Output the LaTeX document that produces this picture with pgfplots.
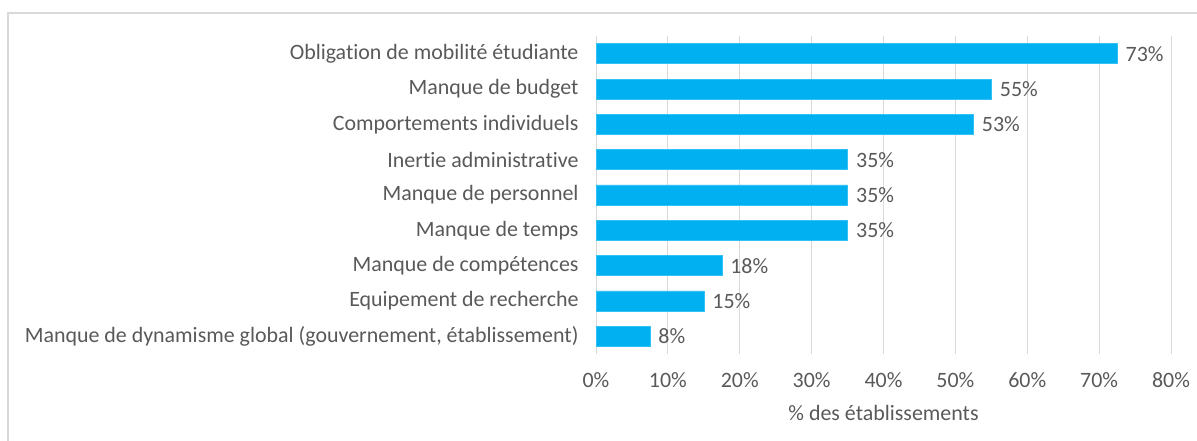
\documentclass[border=0pt]{standalone}
\usepackage{fontspec}
\setmainfont{Carlito}[Ligatures={NoCommon}]
\usepackage{pgfplots}
\pgfplotsset{compat=1.18}
\definecolor{barblue}{HTML}{00B0F0}
\definecolor{txtgray}{HTML}{595959}
\definecolor{gridgray}{HTML}{D9D9D9}
\begin{document}
\begin{tikzpicture}[x=1bp,y=1bp]
\useasboundingbox (0,0) rectangle (1197,441);
\draw[gridgray, line width=1.5bp] (8,-5) -- (8,428) -- (1205,428);
\begin{axis}[
  at={(596bp,87bp)}, anchor=south west,
  scale only axis, width=575bp, height=318bp,
  xbar, bar width=20bp,
  xmin=0, xmax=80, ymin=-0.5, ymax=8.5,
  y dir=reverse,
  axis line style={draw=none},
  xmajorgrids, grid style={gridgray, line width=1bp},
  xtick={0,10,...,80},
  xticklabel={\pgfmathprintnumber{\tick}\%},
  ytick={0,...,8},
  yticklabels={Obligation de mobilité étudiante, Manque de budget, Comportements individuels, Inertie administrative, Manque de personnel, Manque de temps, Manque de compétences, Equipement de recherche, {Manque de dynamisme global (gouvernement, établissement)}},
  major tick length=0pt,
  tick label style={font=\fontsize{22}{24}\selectfont, text=txtgray},
  /pgf/number format/assume math mode=true,
  yticklabel style={xshift=-14bp},
  xticklabel style={yshift=-15bp},
  xlabel={\% des établissements},
  xlabel style={font=\fontsize{22}{24}\selectfont, text=txtgray, yshift=-11bp},
  nodes near coords,
  point meta=explicit symbolic,
  every node near coord/.append style={font=\fontsize{22}{24}\selectfont, text=txtgray, anchor=west, xshift=5bp},
  clip=false,
]
\addplot[fill=barblue, draw=barblue!80!white, line width=0.5bp] table[meta=lab] {
x y lab
72.5 0 73\%
55 1 55\%
52.5 2 53\%
35 3 35\%
35 4 35\%
35 5 35\%
17.5 6 18\%
15 7 15\%
7.5 8 8\%
};
\end{axis}
\end{tikzpicture}
\end{document}
